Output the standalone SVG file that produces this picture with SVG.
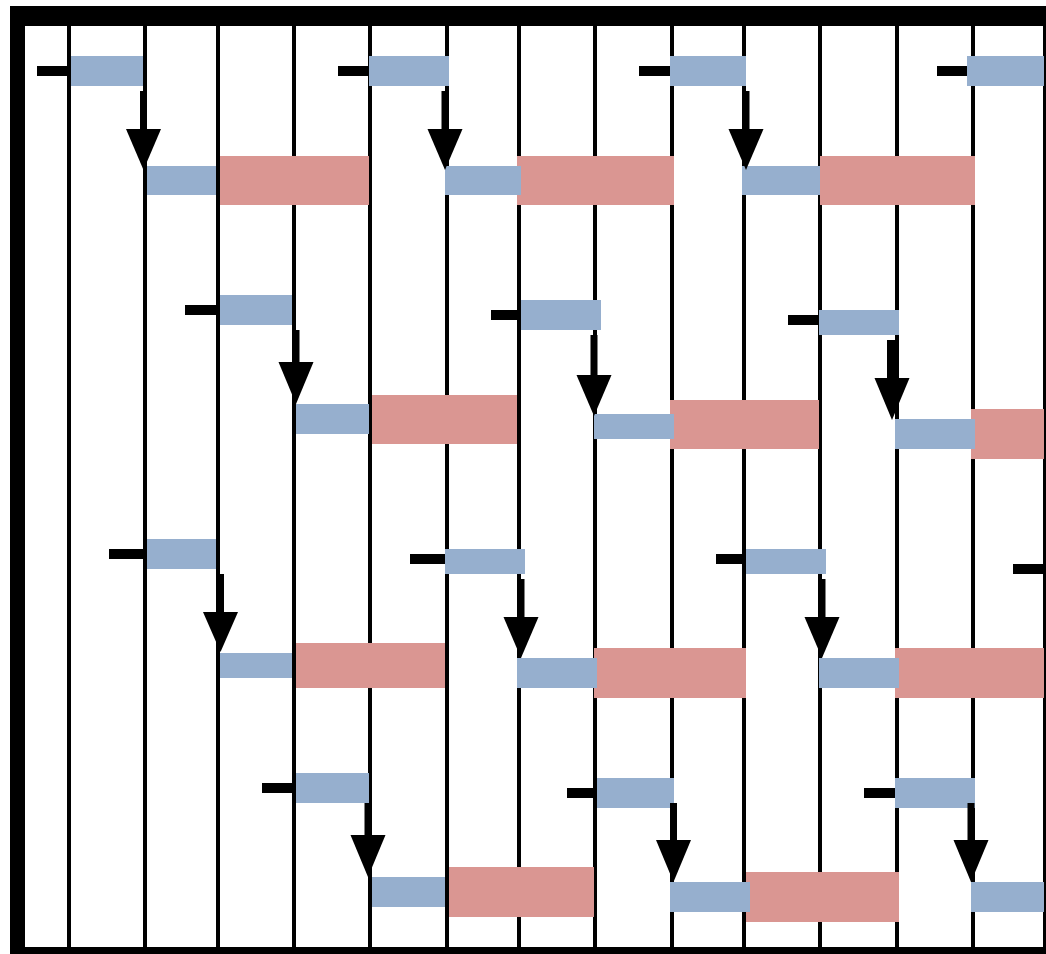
<svg xmlns="http://www.w3.org/2000/svg" width="1046" height="954" viewBox="0 0 1046 954">
<style>
.grid{stroke:#000;stroke-width:4}
.b{fill:#96AFCE}
.r{fill:#DA9692}
.d{fill:#000}
.sh{stroke:#000;stroke-width:7}
.hd{fill:#000}
</style>
<rect width="1046" height="954" fill="#fff"/>
<g id="grid">
<line class="grid" x1="69" y1="20" x2="69" y2="950"/>
<line class="grid" x1="145" y1="20" x2="145" y2="950"/>
<line class="grid" x1="218" y1="20" x2="218" y2="950"/>
<line class="grid" x1="294" y1="20" x2="294" y2="950"/>
<line class="grid" x1="370" y1="20" x2="370" y2="950"/>
<line class="grid" x1="447" y1="20" x2="447" y2="950"/>
<line class="grid" x1="519" y1="20" x2="519" y2="950"/>
<line class="grid" x1="595" y1="20" x2="595" y2="950"/>
<line class="grid" x1="672" y1="20" x2="672" y2="950"/>
<line class="grid" x1="744" y1="20" x2="744" y2="950"/>
<line class="grid" x1="820" y1="20" x2="820" y2="950"/>
<line class="grid" x1="897" y1="20" x2="897" y2="950"/>
<line class="grid" x1="973" y1="20" x2="973" y2="950"/>
<line class="grid" x1="1045" y1="20" x2="1045" y2="950"/>
</g>
<g id="frame">
<rect x="10" y="6" width="1036" height="20" fill="#000"/>
<rect x="10" y="6" width="15" height="948" fill="#000"/>
<rect x="10" y="947" width="1036" height="7" fill="#000"/>
</g>
<g id="reds">
<rect id="rA1" class="r" x="220" y="156" width="149" height="49"/>
<rect id="rA2" class="r" x="517" y="156" width="157" height="49"/>
<rect id="rA3" class="r" x="820" y="156" width="155" height="49"/>
<rect id="rB1" class="r" x="372" y="395" width="145" height="49"/>
<rect id="rB2" class="r" x="670" y="400" width="149" height="49"/>
<rect id="rB3" class="r" x="971" y="409" width="73" height="50"/>
<rect id="rC1" class="r" x="296" y="643" width="149" height="45"/>
<rect id="rC2" class="r" x="594" y="648" width="152" height="50"/>
<rect id="rC3" class="r" x="895" y="648" width="149" height="50"/>
<rect id="rD1" class="r" x="449" y="867" width="145" height="50"/>
<rect id="rD2" class="r" x="746" y="872" width="153" height="50"/>
</g>
<g id="A1"><rect class="d" x="37" y="66" width="34" height="10"/><rect class="b" x="71" y="56" width="72" height="30"/><rect class="b" x="147" y="166" width="69" height="29"/></g>
<g id="A2"><rect class="d" x="338" y="66" width="31" height="10"/><rect class="b" x="369" y="56" width="80" height="30"/><rect class="b" x="445" y="166" width="76" height="29"/></g>
<g id="A3"><rect class="d" x="639" y="66" width="31" height="10"/><rect class="b" x="670" y="56" width="76" height="30"/><rect class="b" x="742" y="166" width="78" height="29"/></g>
<g id="A4"><rect class="d" x="937" y="66" width="30" height="10"/><rect class="b" x="967" y="56" width="77" height="30"/></g>
<g id="B1"><rect class="d" x="185" y="305" width="35" height="10"/><rect class="b" x="220" y="295" width="72" height="30"/><rect class="b" x="296" y="404" width="73" height="30"/></g>
<g id="B2"><rect class="d" x="491" y="310" width="30" height="10"/><rect class="b" x="521" y="300" width="80" height="30"/><rect class="b" x="594" y="414" width="80" height="25"/></g>
<g id="B3"><rect class="d" x="788" y="315" width="31" height="10"/><rect class="b" x="819" y="310" width="80" height="25"/><rect class="b" x="895" y="419" width="80" height="30"/></g>
<g id="C1"><rect class="d" x="109" y="549" width="38" height="10"/><rect class="b" x="147" y="539" width="69" height="30"/><rect class="b" x="220" y="653" width="72" height="25"/></g>
<g id="C2"><rect class="d" x="410" y="554" width="35" height="10"/><rect class="b" x="445" y="549" width="80" height="25"/><rect class="b" x="517" y="658" width="80" height="30"/></g>
<g id="C3"><rect class="d" x="716" y="554" width="30" height="10"/><rect class="b" x="746" y="549" width="80" height="25"/><rect class="b" x="819" y="658" width="80" height="30"/></g>
<g id="C4"><rect class="d" x="1013" y="564" width="31" height="10"/></g>
<g id="D1"><rect class="d" x="262" y="783" width="34" height="10"/><rect class="b" x="296" y="773" width="73" height="30"/><rect class="b" x="372" y="877" width="73" height="30"/></g>
<g id="D2"><rect class="d" x="567" y="788" width="30" height="10"/><rect class="b" x="597" y="778" width="77" height="30"/><rect class="b" x="670" y="882" width="80" height="30"/></g>
<g id="D3"><rect class="d" x="864" y="788" width="31" height="10"/><rect class="b" x="895" y="778" width="80" height="30"/><rect class="b" x="971" y="882" width="73" height="30"/></g>
<g id="connectors">
<line class="sh" x1="143.5" y1="91" x2="143.5" y2="135"/><polygon class="hd" points="126,129 161,129 143.5,170"/>
<line class="sh" x1="445" y1="91" x2="445" y2="135"/><polygon class="hd" points="427.5,129 462.5,129 445,170"/>
<line class="sh" x1="746" y1="91" x2="746" y2="135"/><polygon class="hd" points="728.5,129 763.5,129 746,170"/>
<line class="sh" x1="296" y1="330" x2="296" y2="368"/><polygon class="hd" points="278.5,362 313.5,362 296,404"/>
<line class="sh" x1="594" y1="335" x2="594" y2="381"/><polygon class="hd" points="576.5,375 611.5,375 594,416"/>
<line class="sh" x1="892" y1="340" x2="892" y2="384" style="stroke-width:10"/><polygon class="hd" points="874.5,378 909.5,378 892,420"/>
<line class="sh" x1="220.5" y1="574" x2="220.5" y2="618"/><polygon class="hd" points="203,612 238,612 220.5,652"/>
<line class="sh" x1="521" y1="579" x2="521" y2="623"/><polygon class="hd" points="503.5,617 538.5,617 521,658"/>
<line class="sh" x1="822" y1="579" x2="822" y2="623"/><polygon class="hd" points="804.5,617 839.5,617 822,658"/>
<line class="sh" x1="368" y1="803" x2="368" y2="841"/><polygon class="hd" points="350.5,835 385.5,835 368,877"/>
<line class="sh" x1="673.5" y1="803" x2="673.5" y2="846"/><polygon class="hd" points="656,840 691,840 673.5,882"/>
<line class="sh" x1="971" y1="803" x2="971" y2="846"/><polygon class="hd" points="953.5,840 988.5,840 971,882"/>
</g>
</svg>
